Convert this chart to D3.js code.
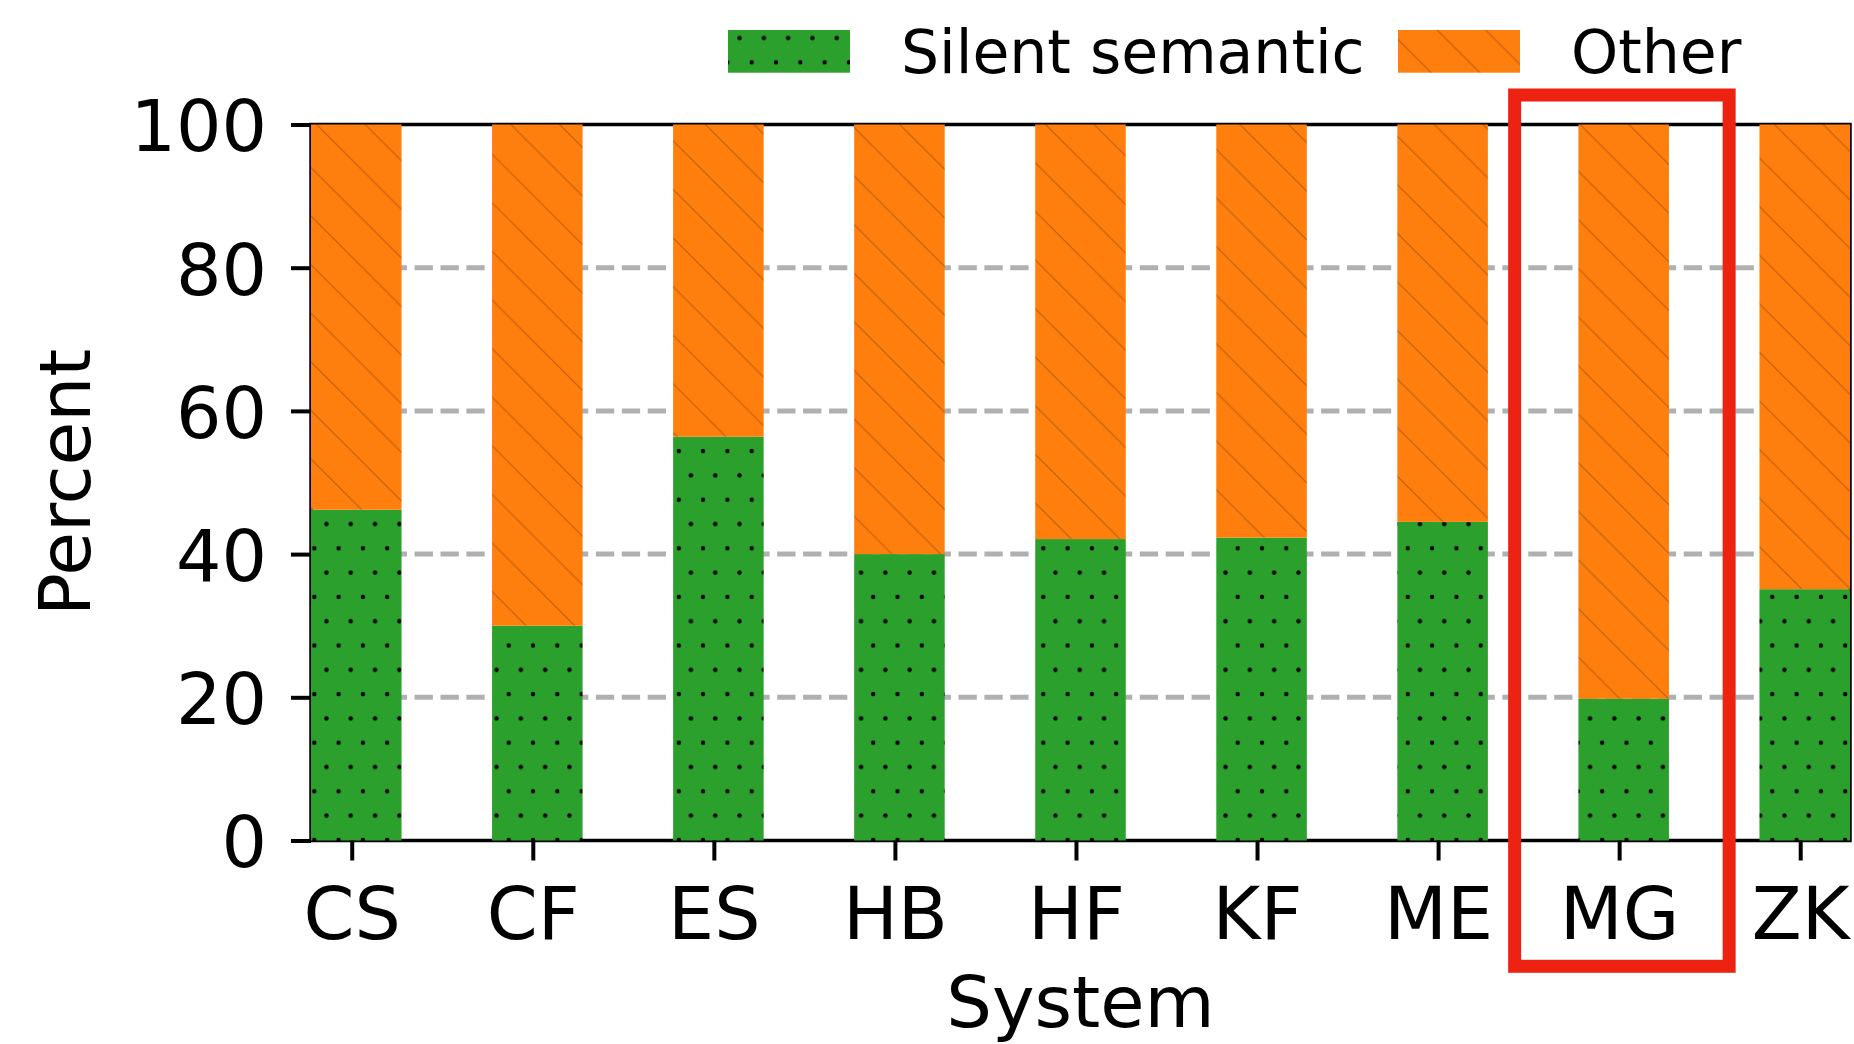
<!DOCTYPE html>
<html>
<head>
<meta charset="utf-8">
<script src="https://cdn.jsdelivr.net/npm/d3@7"></script>
<style>
  body { margin: 0; background: #fff; }
  text { font-family: "DejaVu Sans", sans-serif; }
</style>
</head>
<body>
<script>
var systems = ["CS", "CF", "ES", "HB", "HF", "KF", "ME", "MG", "ZK"];
var silentSemantic = [46.2, 30.0, 56.4, 40.0, 42.1, 42.3, 44.5, 19.8, 35.1];
var other = [53.8, 70.0, 43.6, 60.0, 57.9, 57.7, 55.5, 80.2, 64.9];
var yTicks = [0, 20, 40, 60, 80, 100];
var gridTicks = [20, 40, 60, 80];
var highlight = "MG";

var width = 1854;
var height = 1044;

var green = "#2ca02c";
var orange = "#ff7f0e";

// axes box (note: "top" is taken by window.top)
var axLeft = 311, axRight = 1850, axTop = 124.5, axBottom = 840.5;

var x = d3.scaleLinear().domain([-0.225, 8.275]).range([axLeft, axRight]);
var y = d3.scaleLinear().domain([0, 100]).range([axBottom, axTop]);

var barW = 0.5, barShift = 0.025;

var svg = d3.select("body")
    .append("svg")
    .attr("width", width)
    .attr("height", height);

//hatch patterns, anchored to the page like matplotlib does
var defs = svg.append("defs");

var dot = defs.append("pattern")
    .attr("id", "dots")
    .attr("patternUnits", "userSpaceOnUse")
    .attr("width", 24.3)
    .attr("height", 48.6)
    .attr("patternTransform", "translate(314.3,548.3)");
dot.append("rect").attr("width", 24.3).attr("height", 48.6).attr("fill", green);
[[0, 0], [24.3, 0], [0, 48.6], [24.3, 48.6], [12.15, 24.3]].forEach(function(p) {
    dot.append("circle").attr("cx", p[0]).attr("cy", p[1]).attr("r", 2.2).attr("fill", "#000");
});

var P = 48.6;
var diag = defs.append("pattern")
    .attr("id", "diag")
    .attr("patternUnits", "userSpaceOnUse")
    .attr("width", P)
    .attr("height", P)
    .attr("patternTransform", "translate(-2.3,0)");
diag.append("rect").attr("width", P).attr("height", P).attr("fill", orange);
diag.append("path")
    .attr("d", "M-5,-5L" + (P + 5) + "," + (P + 5) + "M-5," + (P - 5) + "L5," + (P + 5) + "M" + (P - 5) + ",-5L" + (P + 5) + ",5")
    .attr("stroke", "rgba(90,40,0,0.4)")
    .attr("stroke-width", 1.1)
    .attr("fill", "none");

//grid
svg.append("g").selectAll("line")
    .data(gridTicks)
    .enter()
    .append("line")
    .attr("x1", axLeft).attr("x2", axRight)
    .attr("y1", function(d) { return y(d); })
    .attr("y2", function(d) { return y(d); })
    .attr("stroke", "#b0b0b0")
    .attr("stroke-width", 5)
    .attr("stroke-dasharray", "18.3,7.6");

//spines
svg.append("rect")
    .attr("x", axLeft).attr("y", axTop)
    .attr("width", axRight - axLeft).attr("height", axBottom - axTop)
    .attr("fill", "none")
    .attr("stroke", "#000")
    .attr("stroke-width", 3.5);

//bars
var bars = svg.append("g");
bars.selectAll("rect.silent")
    .data(silentSemantic)
    .enter()
    .append("rect")
    .attr("class", "silent")
    .attr("x", function(d, i) { return x(i + barShift - barW / 2); })
    .attr("width", function() { return x(barW) - x(0); })
    .attr("y", function(d) { return y(d); })
    .attr("height", function(d) { return y(0) - y(d); })
    .attr("fill", "url(#dots)");

bars.selectAll("rect.other")
    .data(other)
    .enter()
    .append("rect")
    .attr("class", "other")
    .attr("x", function(d, i) { return x(i + barShift - barW / 2); })
    .attr("width", function() { return x(barW) - x(0); })
    .attr("y", function(d, i) { return y(silentSemantic[i] + d); })
    .attr("height", function(d) { return y(0) - y(d); })
    .attr("fill", "url(#diag)");

//axes
var yAxis = svg.append("g")
    .attr("transform", "translate(" + axLeft + ",0)")
    .call(d3.axisLeft(y).tickValues(yTicks).tickSize(20).tickSizeOuter(0).tickPadding(24));
var xAxis = svg.append("g")
    .attr("transform", "translate(0," + axBottom + ")")
    .call(d3.axisBottom(x).tickValues(d3.range(systems.length)).tickSize(20).tickSizeOuter(0).tickPadding(27)
        .tickFormat(function(i) { return systems[i]; }));

[yAxis, xAxis].forEach(function(a) {
    a.select(".domain").remove();
    a.selectAll(".tick line").attr("stroke", "#000").attr("stroke-width", 4);
    a.selectAll(".tick text")
        .attr("fill", "#000")
        .style("font-family", "DejaVu Sans")
        .style("font-size", "73px");
});
yAxis.selectAll(".tick text").style("font-size", "71.5px").attr("dy", "0.37em");

//axis titles
svg.append("text")
    .attr("x", (axLeft + axRight) / 2)
    .attr("y", 1027)
    .attr("text-anchor", "middle")
    .style("font-size", "72px")
    .text("System");

svg.append("text")
    .attr("transform", "translate(90," + (axTop + axBottom) / 2 + ") rotate(-90)")
    .attr("text-anchor", "middle")
    .style("font-size", "71px")
    .text("Percent");

//legend
var legend = [
    { label: "Silent semantic", fill: "url(#dots)", x: 728 },
    { label: "Other", fill: "url(#diag)", x: 1398 }
];
var lg = svg.append("g").selectAll("g")
    .data(legend)
    .enter()
    .append("g");
lg.append("rect")
    .attr("x", function(d) { return d.x; })
    .attr("y", 30)
    .attr("width", 122)
    .attr("height", 42.7)
    .attr("fill", function(d) { return d.fill; });
lg.append("text")
    .attr("x", function(d) { return d.x + 173; })
    .attr("y", 73)
    .style("font-size", "60px")
    .text(function(d) { return d.label; });

//highlight box around MG
var hi = systems.indexOf(highlight);
svg.append("rect")
    .attr("x", x(hi) - 104.5)
    .attr("y", 95)
    .attr("width", 214.5)
    .attr("height", 871.3)
    .attr("fill", "none")
    .attr("stroke", "#ee2211")
    .attr("stroke-width", 13);
</script>
</body>
</html>
